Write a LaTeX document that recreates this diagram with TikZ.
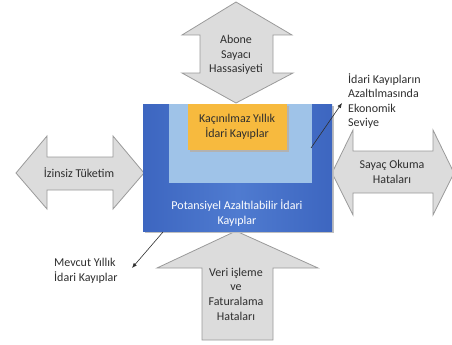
\documentclass[tikz,border=0pt]{standalone}
\usepackage{fontspec}
\setmainfont{Carlito}
\usetikzlibrary{arrows.meta}
\definecolor{grayfill}{HTML}{DCDCDC}
\definecolor{grayline}{HTML}{9A9A9A}
\definecolor{bluedark}{HTML}{3D66C0}
\definecolor{bluemid}{HTML}{4F7BD0}
\definecolor{bluelight}{HTML}{9FC3E8}
\definecolor{orangebox}{HTML}{F7BA3E}
\definecolor{txt}{HTML}{2E2E2E}
\tikzset{
  bigarrow/.style={fill=grayfill, draw=grayline, line width=0.8pt, line join=miter},
  lbl/.style={font=\fontsize{12}{14.6}\selectfont, text=txt, align=center, inner sep=0pt},
  lbll/.style={lbl, align=left, anchor=west},
  pointer/.style={draw=txt, line width=0.6pt, -{Latex[length=5pt,width=4pt]}},
}
\begin{document}
\begin{tikzpicture}[x=1pt,y=-1pt]
\useasboundingbox (0,0) rectangle (452,345);
% top double arrow
\draw[bigarrow] (236,2) -- (292,35) -- (273,35) -- (273,73) -- (293,73) -- (236,103)
  -- (182,73) -- (200,73) -- (200,35) -- (182,35) -- cycle;
% left double arrow
\draw[bigarrow] (16,173) -- (47,136) -- (47,157) -- (113,157) -- (113,136) -- (144,173)
  -- (113,209) -- (113,190) -- (47,190) -- (47,209) -- cycle;
% right double arrow
\draw[bigarrow] (332,173) -- (353,130) -- (353,151) -- (433,151) -- (433,130) -- (454,173)
  -- (433,215) -- (433,193) -- (353,193) -- (353,215) -- cycle;
% bottom up arrow
\draw[bigarrow] (236,231) -- (318,268) -- (273,268) -- (273,340) -- (202,340) -- (202,268)
  -- (157,268) -- cycle;
% boxes with soft shadow
\fill[black!25] (145,106) rectangle (334,233);
\shade[left color=bluedark, right color=bluedark, middle color=bluemid] (143,104) rectangle (332,231);
\fill[bluelight] (169,104) rectangle (312,183);
\fill[black!30] (190,106) rectangle (289,152);
\fill[orangebox] (188,104) rectangle (287,150);
% texts
\node[lbl] (abone) at (236,55) {Abone\\Sayacı\\Hassasiyeti};
\node[lbl] (kacinilmaz) at (237,127) {Kaçınılmaz Yıllık\\İdari Kayıplar};
\node[lbl] (izinsiz) at (79,173) {İzinsiz Tüketim};
\node[lbl] (sayac) at (392,172) {Sayaç Okuma\\Hataları};
\node[lbl, text=white] (potansiyel) at (237,213) {Potansiyel Azaltılabilir İdari\\Kayıplar};
\node[lbl] (veri) at (236,294) {Veri işleme\\ve\\Faturalama\\Hataları};
\node[lbll] (ekonomik) at (348,101) {İdari Kayıpların\\Azaltılmasında\\Ekonomik\\Seviye};
\node[lbll] (mevcut) at (54,271) {Mevcut Yıllık\\İdari Kayıplar};
% pointers
\coordinate (p1) at (311,148);
\coordinate (p1end) at (342,103);
\coordinate (p2) at (163,232);
\coordinate (p2end) at (132,268);
\draw[pointer] (p1) -- (p1end);
\draw[pointer] (p2) -- (p2end);
\end{tikzpicture}
\end{document}
